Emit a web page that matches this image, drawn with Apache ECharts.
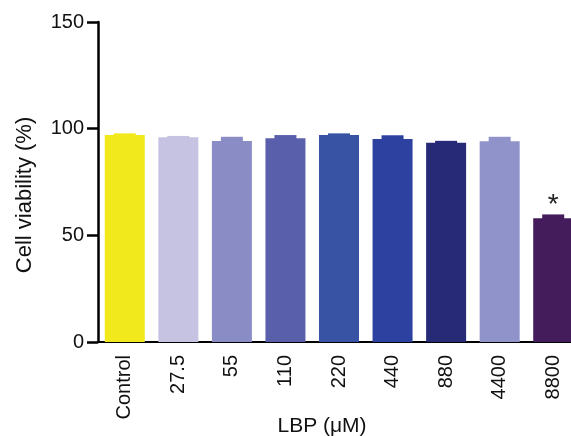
<!DOCTYPE html>
<html>
<head>
<meta charset="utf-8">
<script src="https://cdn.jsdelivr.net/npm/echarts@6/dist/echarts.min.js"></script>
<style>
html, body { margin: 0; padding: 0; background: #fff; }
#chart { width: 571px; height: 436px; }
</style>
</head>
<body>
<div id="chart"></div>
<script>
var categories = ['Control', '27.5', '55', '110', '220', '440', '880', '4400', '8800'];
var viability = [97, 96, 94.2, 95.5, 97, 95.2, 93.4, 94.1, 58];
var errUpper = [97.8, 96.6, 96.2, 97, 97.8, 96.9, 94.3, 96.2, 59.8];
var marks = ['', '', '', '', '', '', '', '', '*'];
var barColors = ['#f1e91c', '#c6c3e2', '#8a8cc6', '#5a5fac', '#3853a4', '#2c41a0', '#262a77', '#8f93c9', '#441b5b'];

var font = '"Liberation Sans", Arial, sans-serif';

(function()
{
	var mychart = echarts.init(document.getElementById('chart'));

	var errData = categories.map(function(c, i) { return [i, viability[i], errUpper[i]]; });

	var option = {
		animation: false,
		grid: { left: 98, top: 22, bottom: 94, right: -9, outerBoundsMode: 'none', containLabel: false },
		xAxis: {
			type: 'category',
			data: categories,
			name: 'LBP (μM)',
			nameLocation: 'middle',
			nameGap: 74,
			nameMoveOverlap: false,
			nameTextStyle: { fontFamily: font, fontSize: 21, color: '#111', padding: [0, 0, 0, -34] },
			axisLine: { lineStyle: { color: '#000', width: 2 } },
			axisTick: { show: false },
			axisLabel: { rotate: 90, fontFamily: font, fontSize: 20, color: '#111', margin: 13 }
		},
		yAxis: {
			type: 'value',
			min: 0, max: 150, interval: 50,
			name: 'Cell viability (%)',
			nameLocation: 'middle',
			nameGap: 62,
			nameMoveOverlap: false,
			nameTextStyle: { fontFamily: font, fontSize: 22, color: '#111', padding: [0, 0, 0, -26] },
			splitLine: { show: false },
			axisLine: { show: true, lineStyle: { color: '#000', width: 2.5 } },
			axisTick: { show: true, length: 11, lineStyle: { color: '#000', width: 2.5 } },
			axisLabel: { fontFamily: font, fontSize: 20, color: '#111', margin: 14 }
		},
		series: [
			{
				type: 'bar',
				barWidth: 40,
				data: viability.map(function(v, i) { return { value: v, itemStyle: { color: barColors[i] } }; })
			},
			{
				type: 'custom',
				data: errData,
				z: 3,
				renderItem: function(params, api) {
					var i = api.value(0);
					var lo = api.coord([i, api.value(1)]);
					var hi = api.coord([i, api.value(2)]);
					var children = [{
						type: 'rect',
						shape: { x: lo[0] - 11, y: hi[1], width: 22, height: lo[1] - hi[1] + 1 },
						style: { fill: barColors[i] }
					}];
					if (marks[i]) {
						children.push({
							type: 'text',
							x: hi[0], y: hi[1] - 9,
							style: { text: marks[i], fontFamily: font, fontSize: 28, fill: '#222', align: 'center', verticalAlign: 'middle' }
						});
					}
					return { type: 'group', children: children };
				}
			}
		]
	};
	mychart.setOption(option);
})();
</script>
</body>
</html>
